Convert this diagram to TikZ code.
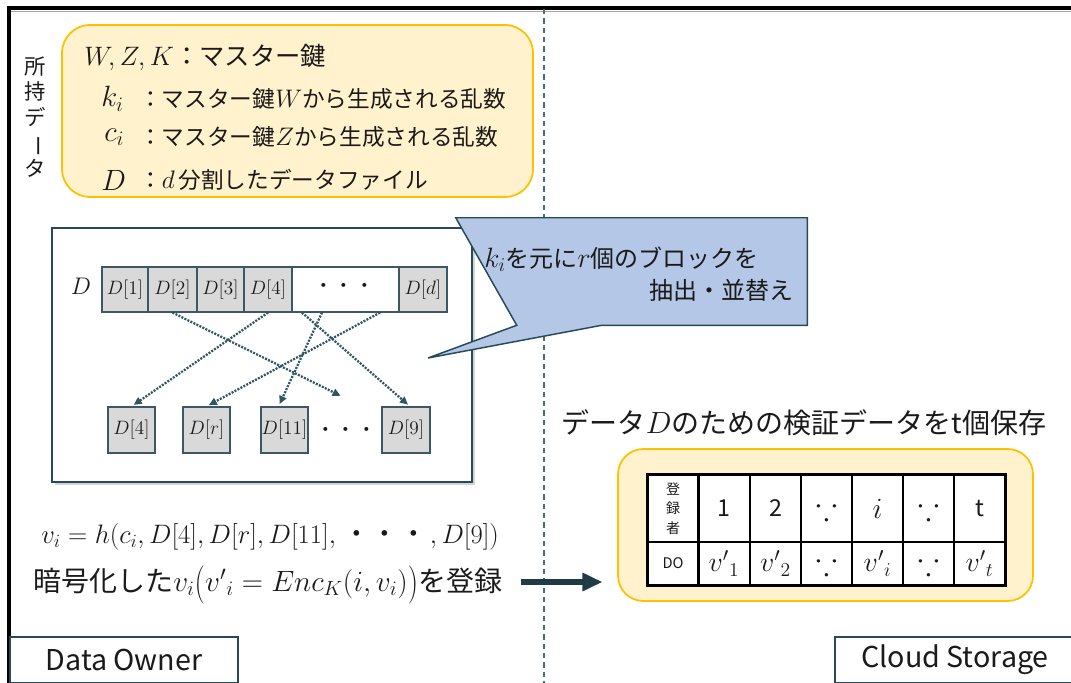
\documentclass[tikz,border=0pt]{standalone}
\usepackage{fix-cm}
\usepackage{amsmath,amssymb}
\usepackage[no-math]{fontspec}
\setmainfont{Noto Sans CJK JP}
\usepackage{graphicx}
\usetikzlibrary{arrows.meta,shadows,calc}

\definecolor{keyfill}{HTML}{FFF2CC}
\definecolor{keyline}{HTML}{FFC000}
\definecolor{notefill}{HTML}{B4C7E7}
\definecolor{slate}{HTML}{264A57}
\definecolor{cellfill}{HTML}{D9D9D9}
\definecolor{cellline}{HTML}{3D5864}
\definecolor{dotline}{HTML}{2E5560}
\definecolor{sepline}{HTML}{4A6C7A}
\definecolor{ink}{HTML}{1A1A1A}

\newcommand\fsz[2]{\fontsize{#1}{#2}\selectfont}
% three small centred dots with wide spacing
\newcommand\wdots{・\kern1.5pt・\kern1.5pt・}
% taller round brackets made from the ordinary ones
\newcommand\tallL{\mathopen{\raisebox{-2.6pt}{\scalebox{1}[1.3]{$($}}}}
\newcommand\tallR{\mathclose{\raisebox{-2.6pt}{\scalebox{1}[1.3]{$)$}}}}

\begin{document}
\begin{tikzpicture}[x=0.75pt,y=-0.75pt,
  wh/.style 2 args={minimum width=#1*0.75pt,minimum height=#2*0.75pt},
  keybox/.style={draw=keyline,fill=keyfill,line width=1.3pt,rounded corners=21pt,inner sep=0pt},
  panel/.style={draw=slate,fill=white,line width=1.1pt,inner sep=0pt,
    drop shadow={shadow xshift=2.2pt,shadow yshift=-2.2pt,opacity=0.35}},
  blk/.style={draw=cellline,fill=cellfill,line width=0.9pt,inner sep=0pt,
    text=ink,font=\fsz{14.5}{16}},
  gapblk/.style={blk,fill=white},
  dotarrow/.style={dotline,line width=1.7pt,dash pattern=on 1.5pt off 1pt,
    -{Triangle[length=6pt,width=5.5pt]},shorten >=2pt},
  tcell/.style={draw=black,line width=0.8pt,fill=white,inner sep=0pt,align=center,text=ink},
  tagbox/.style={draw=slate,line width=1.1pt,fill=white,inner sep=0pt,
    font=\fsz{21.5}{25},text=ink},
  txt/.style={text=ink,inner sep=0pt},
  bigarrow/.style={draw=slate!80!black,line width=4.2pt,
    -{Triangle[length=15pt,width=13pt]}}
]
\path[use as bounding box] (0,0) rectangle (1071,682);
\clip (0,0) rectangle (1071,682);

% outer frame and the dashed split between the two parties
\draw[black!35,line width=0.9pt] (10,11.2) -- (1090,11.2);
\draw[black,line width=2.4pt] (9,700) -- (9,8) -- (1090,8);
\draw[sepline,line width=1.1pt,dash pattern=on 4pt off 3pt] (544,9) -- (544,690);

% data held by the owner
\node[txt,align=center,font=\fsz{16}{19.2}] (held) at (35,117)
  {所\\持\\デ\\\rotatebox[origin=c]{-90}{ー}\\タ};
\node[keybox,wh={471}{172}] (keys) at (297.5,111) {};
\node[txt,anchor=west,font=\fsz{19}{22}] (k0) at (84,57) {{\fsz{20}{22}$W,Z,K$}：マスター鍵};
\node[txt,anchor=west,font=\fsz{22}{24}] (k1s) at (101,99) {$k_i$};
\node[txt,anchor=west,font=\fsz{17}{20}] (k1) at (139,99) {：マスター鍵{\fsz{19}{20}$W$}から生成される乱数};
\node[txt,anchor=west,font=\fsz{22}{24}] (k2s) at (104,137) {$c_i$};
\node[txt,anchor=west,font=\fsz{17}{20}] (k2) at (139,137) {：マスター鍵{\fsz{19}{20}$Z$}から生成される乱数};
\node[txt,anchor=west,font=\fsz{22}{24}] (k3s) at (101,180) {$D$};
\node[txt,anchor=west,font=\fsz{17}{20}] (k3) at (139,180) {：{\fsz{19}{20}$d$}\,分割したデータファイル};

% block selection panel
\node[panel,wh={420}{254}] (sel) at (262,355) {};
\node[txt,font=\fsz{18}{20}] (Dlab) at (81,286) {$D$};
\node[blk,wh={46}{45}] (D1) at (125,289.5) {$D[1]$};
\node[blk,wh={49}{45}] (D2) at (172.5,289.5) {$D[2]$};
\node[blk,wh={47}{45}] (D3) at (220.5,289.5) {$D[3]$};
\node[blk,wh={48}{45}] (D4) at (268,289.5) {$D[4]$};
\node[gapblk,wh={107}{45}] (Dgap) at (345.5,289.5) {};
\node[blk,wh={48}{45}] (Dd) at (423,289.5) {$D[d]$};
\node[txt,font=\fsz{14}{16}] (gapdots) at (344,288) {\wdots};

\node[blk,wh={47}{46}] (B4) at (131.5,430) {$D[4]$};
\node[blk,wh={47}{46}] (Br) at (206.5,430) {$D[r]$};
\node[blk,wh={47}{46}] (B11) at (284.5,430) {$D[11]$};
\node[txt,font=\fsz{14}{16}] (bdots) at (346,432) {\wdots};
\node[blk,wh={48}{46}] (B9) at (406,430) {$D[9]$};

\coordinate (e1) at (343,397);
\draw[dotarrow] (D2.south) -- (e1);
\draw[dotarrow] (D4.south) -- (B4.north);
\draw[dotarrow] ($(Dgap.south)+(-23.5,0)$) -- ($(B11.north)+(-6,0)$);
\draw[dotarrow] ($(Dgap.south)+(34.5,0)$) -- (Br.north);
\draw[dotarrow] ($(Dgap.south)+(-43.5,0)$) -- ($(B9.north)+(4,0)$);

% callout describing the selection
\node[wh={351}{107},inner sep=0pt] (note) at (631.5,271.5) {};
\coordinate (ptip) at (428,358);
\draw[slate,line width=1.1pt,fill=notefill,line join=miter]
  (note.north west) -- (note.north east) -- (note.south east)
  -- ($(note.south west)+(146,0)$) -- (ptip) -- ($(note.south west)+(61,0)$)
  -- cycle;
\node[txt,anchor=west,font=\fsz{18}{22}] (n1) at (484,259)
  {{\fsz{21}{22}$k_i$}を元に{\fsz{21}{22}$r$}個のブロックを};
\node[txt,anchor=east,font=\fsz{18}{22}] (n2) at (794,290) {抽出・並替え};

% hash value and its registration
\node[txt,anchor=west,font=\fsz{20}{22}] (hash) at (41,537)
  {$v_i = h(c_i,D[4],D[r],D[11],\text{\kern2pt\wdots\kern2pt},D[9])$};
\node[txt,anchor=west,font=\fsz{21}{25}] (reg) at (33,585)
  {暗号化した{\fsz{22}{25}$v_i\tallL{v'}_i = Enc_K(i,v_i)\tallR$}を登録};

% storage side
\node[txt,font=\fsz{21}{25}] (title) at (804,423) {データ{\fsz{23}{25}$D$}のための検証データをt個保存};
\node[keybox,rounded corners=19pt,wh={415}{152}] (store) at (825.5,525) {};

\node[tcell,wh={50}{67},font=\fsz{10.5}{14.6}] (h0) at (673,508.5) {登\\録\\者};
\node[tcell,wh={52}{67},font=\fsz{17.5}{20}] (h1) at (724,508.5) {1};
\node[tcell,wh={51}{67},font=\fsz{17.5}{20}] (h2) at (775.5,508.5) {2};
\node[tcell,wh={51}{67},font=\fsz{24}{24}] (h3) at (826.5,508.5) {$\because$};
\node[tcell,wh={51}{67},font=\fsz{22}{22}] (h4) at (877.5,508.5) {$i$};
\node[tcell,wh={51}{67},font=\fsz{24}{24}] (h5) at (928.5,508.5) {$\because$};
\node[tcell,wh={51}{67},font=\fsz{17.5}{20}] (h6) at (979.5,508.5) {t};
\node[tcell,wh={50}{43},font=\fsz{11}{13}] (r0) at (673,563.5) {DO};
\node[tcell,wh={52}{43},font=\fsz{21}{22}] (r1) at (724,563.5) {${v'}_1$};
\node[tcell,wh={51}{43},font=\fsz{21}{22}] (r2) at (775.5,563.5) {${v'}_2$};
\node[tcell,wh={51}{43},font=\fsz{24}{24}] (r3) at (826.5,563.5) {$\because$};
\node[tcell,wh={51}{43},font=\fsz{21}{22}] (r4) at (877.5,563.5) {${v'}_i$};
\node[tcell,wh={51}{43},font=\fsz{24}{24}] (r5) at (928.5,563.5) {$\because$};
\node[tcell,wh={51}{43},font=\fsz{21}{22}] (r6) at (979.5,563.5) {${v'}_t$};
\draw[black,line width=2.3pt] (h0.north west) rectangle (r6.south east);
\draw[black,line width=2.3pt] (h0.north east) -- (r0.south east);

\coordinate (astart) at (521,582);
\draw[bigarrow,shorten >=11pt] (astart) -- (store.west |- astart);

% party labels
\node[tagbox,wh={228}{46}] (owner) at (124,660) {Data Owner};
\node[tagbox,wh={240}{46}] (cloud) at (955,660) {Cloud Storage};
\end{tikzpicture}
\end{document}
